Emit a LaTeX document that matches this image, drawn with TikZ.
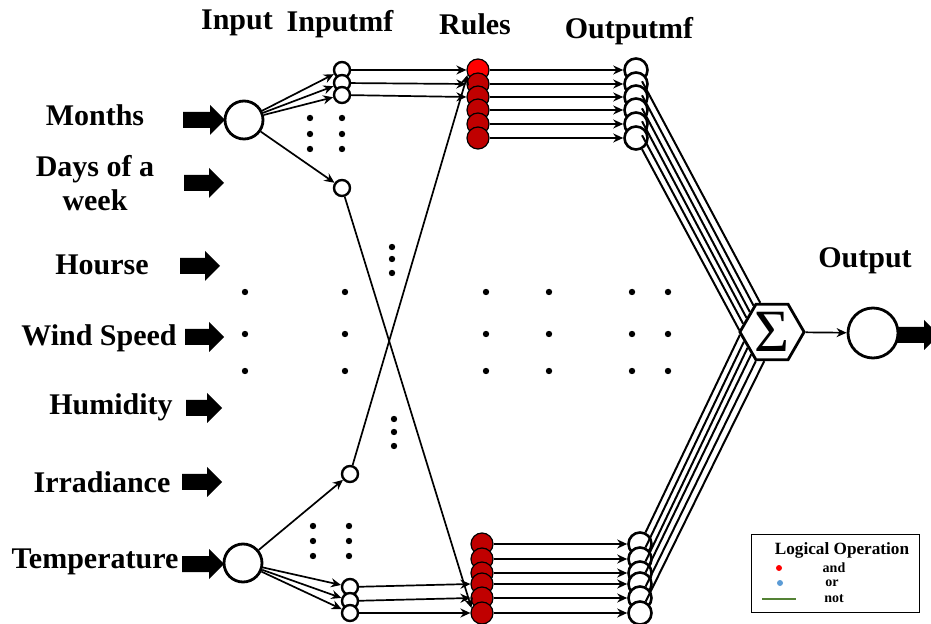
\documentclass[tikz,border=0pt]{standalone}
\usepackage{fontspec}
\setmainfont{Liberation Serif}
\usetikzlibrary{arrows.meta, positioning, calc, shapes.geometric}
\definecolor{ruleRed}{RGB}{192,0,0}
\definecolor{hotRed}{RGB}{255,0,0}
\definecolor{orBlue}{RGB}{91,155,213}
\definecolor{notGreen}{RGB}{84,130,53}

% fat block arrow, left end at #1, #2 = length
\newcommand{\fatarrow}[2]{%
  \fill #1 ++(0,-8) -- ++(#2-15,0) -- ++(0,-7) -- ++(15,15) -- ++(-15,15) -- ++(0,-7) -- ++(-#2+15,0) -- cycle;}

\begin{document}
\begin{tikzpicture}[
    x=0.5pt, y=-0.5pt,
    label/.style={font=\bfseries\fontsize{15}{17}\selectfont, align=center},
    incircle/.style={circle, draw, line width=1.4pt, minimum size=19pt, inner sep=0pt, fill=white},
    mfcircle/.style={circle, draw, line width=1.2pt, minimum size=8pt, inner sep=0pt, fill=white},
    rulecircle/.style={circle, draw, line width=0.6pt, minimum size=11pt, inner sep=0pt},
    omfcircle/.style={circle, draw, line width=1.3pt, minimum size=11.5pt, inner sep=0pt, fill=white},
    link/.style={draw, -{Stealth[length=5pt,width=4.5pt]}, line width=0.85pt},
    feed/.style={draw, line width=1pt}
]
    \clip (0,0) rectangle (931,624);

    % column titles
    \node [label] (tin) at (237,23) {Input};
    \node [label] (tinmf) at (340,24) {Inputmf};
    \node [label] (trules) at (475,24) {Rules};
    \node [label] (toutmf) at (629,31) {Outputmf};
    \node [label] (tout) at (865,261) {Output};

    % input names
    \node [label] (months) at (95,115) {Months};
    \node [label] (days) at (95,183) {Days of a\\week};
    \node [label] (hours) at (102,265) {Hourse};
    \node [label] (wind) at (99,338) {Wind Speed};
    \node [label] (humid) at (111,407) {Humidity};
    \node [label] (irrad) at (102,482) {Irradiance};
    \node [label] (temp) at (95,562) {Temperature};

    \fatarrow{(183,120)}{42}
    \fatarrow{(184,183)}{40}
    \fatarrow{(180,266)}{40}
    \fatarrow{(185,337)}{39}
    \fatarrow{(186,408)}{36}
    \fatarrow{(182,482)}{40}
    \fatarrow{(182,564)}{42}

    % input circles
    \node [incircle] (inm) at (244,120) {};
    \node [incircle] (int) at (243,563) {};

    % input membership functions
    \node [mfcircle] (mt1) at (342,70) {};
    \node [mfcircle] (mt2) at (342,83) {};
    \node [mfcircle] (mt3) at (342,95) {};
    \node [mfcircle] (mt4) at (342,188) {};
    \node [mfcircle] (mb1) at (350,474) {};
    \node [mfcircle] (mb2) at (350,587) {};
    \node [mfcircle] (mb3) at (350,601) {};
    \node [mfcircle] (mb4) at (350,613) {};

    \foreach \i in {1,...,4} {
        \draw [link] (inm) -- (mt\i);
        \draw [link] (int) -- (mb\i);
    }

    % rules and output membership functions
    \foreach \y/\c [count=\i] in {70/hotRed, 84/ruleRed, 97/ruleRed, 110/ruleRed, 124/ruleRed, 138/ruleRed} {
        \node [rulecircle, fill=\c] (rt\i) at (478,\y) {};
        \node [omfcircle] (ot\i) at (636,\y) {};
    }
    \foreach \y [count=\i] in {544,559,573,584,598,613} {
        \node [rulecircle, fill=ruleRed] (rb\i) at (482,\y) {};
        \node [omfcircle] (ob\i) at (640,\y) {};
    }
    \foreach \i in {1,...,6} {
        \draw [link] (rt\i) -- (ot\i);
        \draw [link] (rb\i) -- (ob\i);
    }

    \draw [link] (mt1) -- (rt1.west);
    \draw [link] (mt2) -- (rt2.west);
    \draw [link] (mt3) -- (rt3.west);
    \draw [link] (mt4) -- (rb6.155);
    \draw [link] (mb1) -- (rt1.205);
    \draw [link] (mb2) -- (rb4.west);
    \draw [link] (mb3) -- (rb5.west);
    \draw [link] (mb4) -- (rb6.west);

    % summation and output
    \node [regular polygon, regular polygon sides=6, draw, line width=1.4pt, minimum size=31pt, inner sep=0pt,
           font=\fontsize{30}{30}\selectfont] (sigma) at (772,332) {Σ};
    \node [incircle, minimum size=25pt] (outc) at (873,333) {};

    \foreach \i/\a in {1/112, 2/125, 3/138, 4/151, 5/164, 6/177} {
        \draw [feed] (ot\i) -- (sigma.\a);
    }
    \foreach \i/\a in {1/185, 2/199, 3/213, 4/227, 5/241, 6/255} {
        \draw [feed] (ob\i) -- (sigma.\a);
    }
    \draw [link] (sigma) -- (outc);
    \fatarrow{(897,335)}{42}

    % dots
    \foreach \x in {245,345,486,549,632,668}
        \foreach \y in {292,334,371}
            \fill (\x,\y) circle (1.6pt);
    \foreach \y in {118,134,149} {
        \fill (310,\y) circle (1.6pt);
        \fill (342,\y) circle (1.6pt);
    }
    \foreach \y in {526,541,556} {
        \fill (313,\y) circle (1.6pt);
        \fill (349,\y) circle (1.6pt);
    }
    \foreach \y in {247,259,273} \fill (392,\y) circle (1.6pt);
    \foreach \y in {419,432,446} \fill (394,\y) circle (1.6pt);

    % legend
    \node [draw, line width=0.5pt, minimum width=84pt, minimum height=38.5pt, inner sep=0pt] (legend) at (835,573.5) {};
    \node [font=\bfseries\fontsize{8.6}{10}\selectfont] (ltitle) at (842,550) {Logical Operation};
    \fill [hotRed] (779,568) circle (1.5pt);
    \fill [orBlue] (780,583) circle (1.5pt);
    \draw [notGreen, line width=1.1pt] (762,599) -- (796,599);
    \node [font=\bfseries\fontsize{7}{8}\selectfont] (land) at (834,568) {and};
    \node [font=\bfseries\fontsize{7}{8}\selectfont] (lor) at (832,583) {or};
    \node [font=\bfseries\fontsize{7}{8}\selectfont] (lnot) at (834,599) {not};
\end{tikzpicture}
\end{document}
